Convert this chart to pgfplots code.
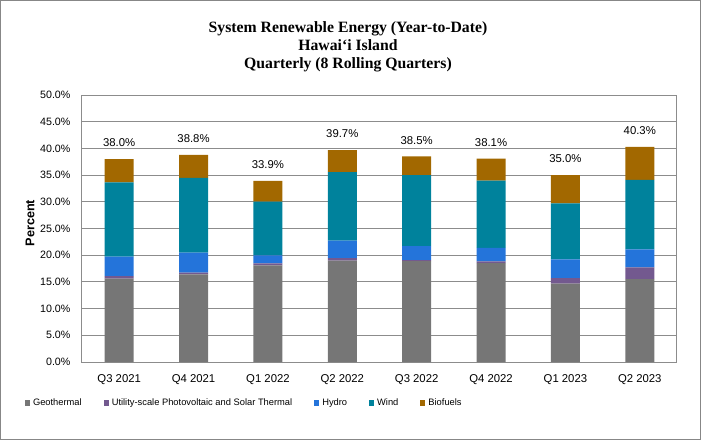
\documentclass[border=0pt]{standalone}
\usepackage{fontspec}
\setmainfont{Liberation Sans}
\newfontfamily\titlefont{Liberation Serif}
\usepackage{pgfplots}
\pgfplotsset{compat=1.18}
\definecolor{geo}{HTML}{767676}
\definecolor{pv}{HTML}{73598F}
\definecolor{hydro}{HTML}{2474DA}
\definecolor{wind}{HTML}{00829C}
\definecolor{bio}{HTML}{A26800}
\definecolor{gridgray}{HTML}{8C8C8C}
\definecolor{bordergray}{HTML}{878787}
\begin{document}
\begin{tikzpicture}
\useasboundingbox (0,0) rectangle (525.75pt,330pt);
\draw[draw=bordergray, line width=0.75pt] (0.375pt,0.375pt) rectangle (525.375pt,329.625pt);
\node[align=center, font=\titlefont\bfseries\fontsize{11.8}{13.5}\selectfont] at (261pt,294.75pt) {System Renewable Energy (Year-to-Date)\\Hawai‘i Island\\Quarterly (8 Rolling Quarters)};
\begin{axis}[
  at={(61.5pt,58.5pt)}, anchor=south west,
  scale only axis, width=446.25pt, height=200.25pt,
  ybar stacked, bar width=21.75pt,
  xmin=-0.5, xmax=7.5, ymin=0, ymax=50,
  xtick={0,...,7},
  xticklabels={Q3 2021,Q4 2021,Q1 2022,Q2 2022,Q3 2022,Q4 2022,Q1 2023,Q2 2023},
  ytick={0,5,...,50},
  yticklabel={\pgfmathprintnumber[fixed,fixed zerofill,precision=1]{\tick}\%},
  /pgf/number format/assume math mode=true,
  ymajorgrids, grid style={gridgray, line width=0.75pt},
  axis line style={gridgray, line width=0.75pt},
  major tick length=0pt,
  yticklabel style={font=\fontsize{8}{9}\selectfont, inner sep=0pt, anchor=east, xshift=-8.5pt},
  xticklabel style={font=\fontsize{8.5}{9}\selectfont, inner sep=0pt, anchor=center, yshift=-13.5pt},
  ylabel={Percent},
  ylabel style={font=\bfseries\fontsize{9.5}{10}\selectfont, at={(axis description cs:-0.0874,0.52)}, anchor=center},
  legend columns=5,
  legend image code/.code={\fill[#1] (0pt,-1.9pt) rectangle (3.75pt,1.9pt);},
  legend style={at={(axis description cs:-0.0958,-0.1536)}, anchor=west, draw=none, fill=none,
    font=\fontsize{7}{8}\selectfont, inner sep=0pt, outer sep=0pt, cells={anchor=west},
    nodes={inner sep=0pt},
    /tikz/every odd column/.append style={column sep=2.25pt},
    /tikz/every even column/.append style={column sep=16.5pt}},
]
\addplot[draw=none, fill=geo] coordinates {(0,15.6) (1,16.4) (2,18.1) (3,19.0) (4,18.9) (5,18.5) (6,14.7) (7,15.5)};
\addlegendentry{Geothermal}
\addplot[draw=none, fill=pv] coordinates {(0,0.5) (1,0.35) (2,0.35) (3,0.45) (4,0.2) (5,0.35) (6,1.0) (7,2.2)};
\addlegendentry{Utility-scale Photovoltaic and Solar Thermal}
\addplot[draw=none, fill=hydro] coordinates {(0,3.65) (1,3.75) (2,1.5) (3,3.3) (4,2.6) (5,2.5) (6,3.5) (7,3.4)};
\addlegendentry{Hydro}
\addplot[draw=none, fill=wind] coordinates {(0,13.9) (1,14.0) (2,10.1) (3,12.8) (4,13.3) (5,12.6) (6,10.5) (7,13.0)};
\addlegendentry{Wind}
\addplot[draw=none, fill=bio] coordinates {(0,4.35) (1,4.3) (2,3.85) (3,4.15) (4,3.5) (5,4.15) (6,5.3) (7,6.2)};
\addlegendentry{Biofuels}
\end{axis}
\begin{axis}[
  at={(61.5pt,58.5pt)}, anchor=south west,
  scale only axis, width=446.25pt, height=200.25pt,
  xmin=-0.5, xmax=7.5, ymin=0, ymax=50,
  axis lines=none, ticks=none,
  /pgf/number format/assume math mode=true,
]
\addplot[only marks, mark=none, point meta=y,
  nodes near coords={\pgfmathprintnumber[fixed,fixed zerofill,precision=1,assume math mode=true]{\pgfplotspointmeta}\%},
  every node near coord/.append style={font=\fontsize{8.5}{9}\selectfont, text=black, inner sep=0pt, anchor=center, yshift=12pt}]
  coordinates {(0,38.0) (1,38.8) (2,33.9) (3,39.7) (4,38.5) (5,38.1) (6,35.0) (7,40.3)};
\end{axis}
\end{tikzpicture}
\end{document}
